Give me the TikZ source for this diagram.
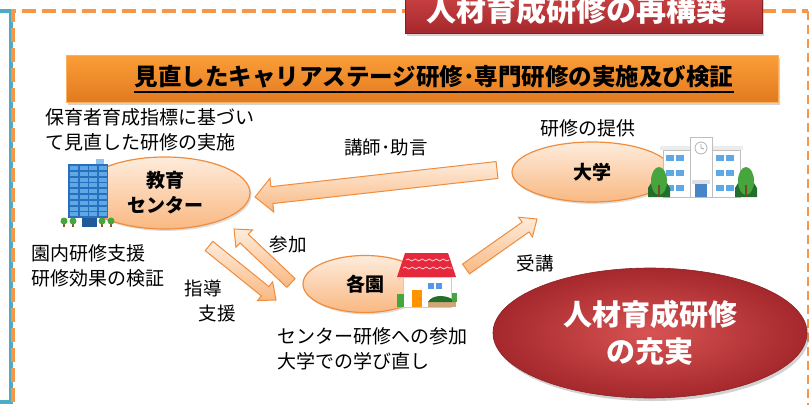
\documentclass[tikz,border=0pt]{standalone}
\usepackage{fontspec}
\setmainfont{Noto Sans CJK JP}
\usetikzlibrary{shapes.geometric,calc,shadows,decorations.pathmorphing}

\definecolor{frameblue}{RGB}{75,172,198}
\definecolor{dashorange}{RGB}{247,150,70}
\definecolor{lineorange}{RGB}{240,140,60}
\definecolor{peachlight}{RGB}{254,236,220}
\definecolor{peachdark}{RGB}{249,184,130}
\definecolor{bannertop}{RGB}{251,158,56}
\definecolor{bannerbot}{RGB}{226,122,32}
\definecolor{redtop}{RGB}{214,74,74}
\definecolor{redbot}{RGB}{165,40,44}
\definecolor{bldgblue}{RGB}{40,112,190}
\definecolor{winblue}{RGB}{95,168,230}
\definecolor{treegreen}{RGB}{70,165,60}
\definecolor{darkgreen}{RGB}{35,110,45}
\definecolor{roofred}{RGB}{230,40,60}

\newcommand\fatarrow[5]{%
  \coordinate (neck) at ($(#2)!#5!(#1)$);
  \draw[arrowbody] ($(#1)!#3!90:(#2)$) -- ($(neck)!#3!90:(#2)$) -- ($(neck)!#4!90:(#2)$) -- (#2)
    -- ($(neck)!#4!-90:(#2)$) -- ($(neck)!#3!-90:(#2)$) -- ($(#1)!#3!-90:(#2)$) -- cycle;
}

\begin{document}
\begin{tikzpicture}[x=1pt,y=-1pt,
    txt/.style={font=\fontsize{19}{25}\selectfont, align=left, inner sep=0},
    lbl/.style={font=\fontsize{18.5}{22}\selectfont, inner sep=0},
    place/.style={ellipse, draw=lineorange, line width=1.2pt, top color=peachlight, bottom color=peachdark,
      font=\fontsize{19}{25}\selectfont\bfseries, align=center, inner sep=0,
      drop shadow={opacity=0.25, shadow xshift=1.5pt, shadow yshift=-2pt}},
    arrowbody/.style={draw=lineorange, line width=1pt, top color=peachlight, bottom color=peachdark},
    boxshadow/.style={drop shadow={opacity=0.35, shadow xshift=2pt, shadow yshift=-2.5pt}}]
    \useasboundingbox[fill=white] (0,0) rectangle (812,405);

    \draw[frameblue, line width=3.5pt] (0,11) -- (11,11) -- (11,402) -- (0,402);
    \draw[dashorange, line width=4.5pt, dash pattern=on 14pt off 6pt] (13,402) -- (13,11) -- (808,11);
    \draw[dashorange, line width=1.3pt, dash pattern=on 9pt off 5pt] (808,11) -- (808,405);

    \node[boxshadow, draw=redbot!80!black, line width=0.5pt, top color=redtop, bottom color=redbot,
      minimum width=357, minimum height=50, inner sep=0] (title) at (583.5,8) {};
    \node[font=\fontsize{30}{30}\selectfont\bfseries, text=white, inner sep=0] (titletext) at (576,10) {人材育成研修の再構築};

    \node[boxshadow, draw=bannertop!80!white, line width=0.8pt, top color=bannertop, bottom color=bannerbot,
      minimum width=712, minimum height=47, inner sep=0] (banner) at (422,78.5) {};
    \node[font=\fontsize{23.5}{23.5}\selectfont\bfseries, inner sep=0] (bannertext) at (434,77) {見直したキャリアステージ研修･専門研修の実施及び検証};
    \draw[line width=1.8pt] ([yshift=-3pt]bannertext.south west) -- ([yshift=-3pt]bannertext.south east);

    \node[place, minimum width=170, minimum height=72] (center) at (165,193) {教育\\センター};
    \node[place, minimum width=160, minimum height=60] (univ) at (592,172) {大学};
    \node[place, minimum width=124, minimum height=57] (school) at (365,284) {各園};
    \node[ellipse, minimum width=314, minimum height=130, inner color=redtop!95!white, outer color=redbot,
      draw=redbot!85!black, line width=0.6pt, text=white, align=center, inner sep=0,
      font=\fontsize{29}{37}\selectfont\bfseries,
      drop shadow={opacity=0.35, shadow xshift=2pt, shadow yshift=-3pt}] (goal) at (650,333) {人材育成研修\\の充実};

    \coordinate (lecA) at (497,170);
    \coordinate (lecB) at (255,197);
    \coordinate (joinA) at (291,283);
    \coordinate (joinB) at (234,229);
    \coordinate (guideA) at (209,246);
    \coordinate (guideB) at (276,300);
    \coordinate (takeA) at (466,269);
    \coordinate (takeB) at (537,219);
    \fatarrow{lecA}{lecB}{8.5pt}{17pt}{17pt}
    \fatarrow{joinA}{joinB}{6pt}{12pt}{14pt}
    \fatarrow{guideA}{guideB}{6pt}{12pt}{14pt}
    \fatarrow{takeA}{takeB}{6pt}{12pt}{14pt}

    \node[txt, anchor=west] (plan) at (45,130) {保育者育成指標に基づい\\て見直した研修の実施};
    \node[txt, anchor=west] (support) at (31,266) {園内研修支援\\研修効果の検証};
    \node[txt, anchor=west] (attend) at (277,349) {センター研修への参加\\大学での学び直し};
    \node[txt] (offer) at (588,128) {研修の提供};
    \node[lbl] (lec) at (386,147) {講師･助言};
    \node[lbl] (join) at (288,245) {参加};
    \node[lbl] (guide1) at (203,288) {指導};
    \node[lbl] (guide2) at (217,313) {支援};
    \node[lbl] (take) at (535,263) {受講};

    \fill[winblue!70!white] (96,159) rectangle (104,164);
    \fill[bldgblue] (68,164) rectangle (108,218);
    \foreach \r in {0,...,8} {
        \foreach \c in {0,...,3} {
            \fill[winblue] ({70+\c*9.5},{166+\r*5.8}) rectangle ++(8,4);
        }
    }
    \fill[bldgblue!80!black] (82,218) rectangle (97,227);
    \foreach \t in {64,73,102,111} {
        \fill[brown!70!black] (\t-0.7,222) rectangle (\t+0.7,227);
        \fill[treegreen] (\t,221) circle (3.5);
    }

    \fill[gray!15] (660,146) rectangle (743,150);
    \draw[gray!50, fill=white] (663,150) rectangle (690,197);
    \draw[gray!50, fill=white] (712,150) rectangle (740,197);
    \draw[gray!50, fill=white] (690,137) rectangle (712,197);
    \draw[gray!60, fill=white, line width=0.8pt] (701,148) circle (6);
    \draw[gray!70, line width=0.8pt] (701,148) -- (701,144) (701,148) -- (704,149);
    \foreach \y in {155,170,185} {
        \foreach \x in {666,676,716,726} {
            \fill[winblue] (\x,\y) rectangle ++(8,6);
        }
    }
    \fill[gray!25] (692,180) rectangle (710,184);
    \fill[bldgblue!85!white] (695,184) rectangle (707,197);
    \foreach \t in {659,746} {
        \fill[darkgreen] (\t-11,197) -- (\t-11,188) -- (\t,170) -- (\t+11,188) -- (\t+11,197) -- cycle;
        \fill[treegreen] (\t,181) ellipse (8 and 14);
        \fill[brown!60!black] (\t-0.8,185) rectangle (\t+0.8,197);
    }

    \fill[roofred] (405,253) -- (448,253) -- (456,277) -- (397,277) -- cycle;
    \draw[white!80!roofred, line width=0.8pt, decorate, decoration={snake, amplitude=1pt, segment length=7pt}] (406,260) -- (449,260);
    \draw[white!80!roofred, line width=0.8pt, decorate, decoration={snake, amplitude=1pt, segment length=7pt}] (403,268) -- (452,268);
    \draw[gray!40, fill=white] (403,277) rectangle (451,307);
    \fill[orange!85!yellow] (412,290) rectangle (422,307);
    \fill[brown] (420,299) circle (0.8);
    \fill[winblue!90!blue] (428,283) rectangle (434,289);
    \fill[winblue!90!blue] (436,283) rectangle (442,289);
    \fill[treegreen] (397,294) rectangle (404,307);
    \fill[brown!70!white] (428,302) rectangle (456,307);
    \fill[darkgreen] (428,302) .. controls (432,294) and (448,294) .. (456,302) -- cycle;
    \fill[treegreen] (452,293) rectangle (457,302);
\end{tikzpicture}
\end{document}
